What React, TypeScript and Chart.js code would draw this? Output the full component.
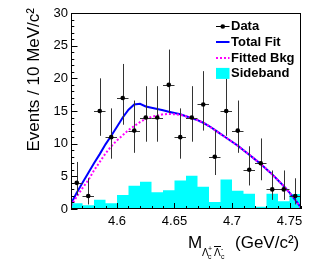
import React, { useEffect, useRef } from "react";
import { Chart, registerables } from "chart.js";

Chart.register(...registerables);

// ---------------- data ----------------
const binCenters = [
  4.565, 4.575, 4.585, 4.595, 4.605, 4.615, 4.625, 4.635, 4.645, 4.655,
  4.665, 4.675, 4.685, 4.695, 4.705, 4.715, 4.725, 4.735, 4.745, 4.755,
];
const binWidth = 0.01;
const dataCounts = [4, 2, 15, 11, 17, 12, 14, 14, 19, 11, 14, 16, 8, 15, 12, 6, 7, 3, 3, 2];
const errLow = [1.9, 1.3, 3.8, 3.3, 4.1, 3.4, 3.7, 3.7, 4.3, 3.3, 3.7, 4.0, 2.8, 3.8, 3.4, 2.4, 2.6, 1.6, 1.6, 1.3];
const errHigh = [3.2, 2.7, 5.0, 4.4, 5.2, 4.6, 4.8, 4.8, 5.4, 4.4, 4.8, 5.1, 4.0, 5.0, 4.6, 3.6, 3.8, 2.9, 2.9, 2.7];
const sideband = [0.87, 0.57, 1.43, 0.87, 2.14, 3.57, 4.18, 2.55, 2.86, 4.35, 5.1, 3.4, 1.07, 4.5, 2.8, 2.35, 0.33, 2.35, 1.2, 2.3];

const fitX = [
  4.56, 4.565, 4.57, 4.575, 4.58, 4.585, 4.59, 4.595, 4.6, 4.605,
  4.61, 4.615, 4.62, 4.625, 4.63, 4.635, 4.64, 4.645, 4.65, 4.655,
  4.66, 4.665, 4.67, 4.675, 4.68, 4.685, 4.69, 4.695, 4.7, 4.705,
  4.71, 4.715, 4.72, 4.725, 4.73, 4.735, 4.74, 4.745, 4.75, 4.755, 4.76,
];
const totalFit = [
  0.8, 2.5, 4.0, 5.5, 7.0, 8.4, 9.9, 11.2, 12.6, 14.0,
  15.2, 16.0, 16.1, 15.7, 15.5, 15.3, 15.1, 14.9, 14.7, 14.5,
  14.2, 13.9, 13.6, 13.2, 12.7, 12.1, 11.5, 10.9, 10.3, 9.7,
  9.0, 8.3, 7.6, 6.9, 6.1, 5.3, 4.4, 3.5, 2.5, 1.4, 0.2,
];
const bkgFit = [
  0.5, 1.9, 3.2, 4.4, 5.9, 7.2, 8.5, 9.6, 10.5, 11.3,
  12.1, 12.7, 13.3, 13.8, 14.1, 14.3, 14.5, 14.55, 14.5, 14.4,
  14.2, 13.95, 13.6, 13.2, 12.7, 12.1, 11.5, 10.9, 10.3, 9.7,
  9.0, 8.3, 7.6, 6.9, 6.1, 5.3, 4.4, 3.5, 2.5, 1.4, 0.2,
];

const xMin = 4.56;
const xMax = 4.76;
const xTicks = [4.6, 4.65, 4.7, 4.75];
const xTickLabels = ["4.6", "4.65", "4.7", "4.75"];
const yTicks = [0, 5, 10, 15, 20, 25, 30];
const yTickLabels = ["0", "5", "10", "15", "20", "25", "30"];
const legendLabels = ["Data", "Total Fit", "Fitted Bkg", "Sideband"];
const yTitle = "Events / 10 MeV/c\u00B2";

const FONT = "'Liberation Sans', Arial, Helvetica, sans-serif";
const BLUE = "#0000ff";
const MAGENTA = "#ff00ff";
const CYAN = "#00ffff";

const rootPlugin = {
  id: "rootStyle",
  beforeDatasetDraw(chart: any, args: any) {
    if (args.index !== 0) return;
    const { ctx } = chart;
    const x = chart.scales.x;
    const y = chart.scales.y;
    ctx.save();
    ctx.strokeStyle = "#333333";
    ctx.lineWidth = 1;
    binCenters.forEach((c, i) => {
      const px = Math.round(x.getPixelForValue(c)) + 0.5;
      const py = Math.round(y.getPixelForValue(dataCounts[i])) + 0.5;
      const yTop = y.getPixelForValue(dataCounts[i] + errHigh[i]);
      const yBot = y.getPixelForValue(Math.max(0, dataCounts[i] - errLow[i]));
      const xl = x.getPixelForValue(c - binWidth / 2);
      const xr = x.getPixelForValue(c + binWidth / 2);
      ctx.beginPath();
      ctx.moveTo(px, yTop);
      ctx.lineTo(px, yBot);
      ctx.moveTo(xl, py);
      ctx.lineTo(xr, py);
      ctx.stroke();
    });
    ctx.restore();
  },
  afterDraw(chart: any) {
    const { ctx, chartArea } = chart;
    const x = chart.scales.x;
    const y = chart.scales.y;
    const { left, right, top, bottom } = chartArea;
    ctx.save();
    // frame
    ctx.strokeStyle = "#000";
    ctx.lineWidth = 1;
    ctx.strokeRect(left + 0.5, top + 0.5, right - left - 1, bottom - top - 1);
    // x ticks
    ctx.beginPath();
    for (let k = 0; k <= 20; k++) {
      const v = xMin + k * 0.01;
      const px = Math.round(x.getPixelForValue(v)) + 0.5;
      const major = k % 5 === 4;
      ctx.moveTo(px, bottom);
      ctx.lineTo(px, bottom - (major ? 6 : 3));
    }
    // y ticks
    for (let v = 0; v <= 30; v++) {
      const py = Math.round(y.getPixelForValue(v)) + 0.5;
      const major = v % 5 === 0;
      ctx.moveTo(left, py);
      ctx.lineTo(left + (major ? 6.5 : 3.3), py);
    }
    ctx.stroke();

    // y title
    ctx.fillStyle = "#000";
    ctx.font = `17px ${FONT}`;
    ctx.save();
    ctx.translate(39, 8);
    ctx.rotate(-Math.PI / 2);
    ctx.textAlign = "right";
    ctx.textBaseline = "alphabetic";
    ctx.fillText(yTitle, 0, 0);
    ctx.restore();

    // x title
    ctx.textAlign = "left";
    ctx.textBaseline = "alphabetic";
    ctx.font = `17px ${FONT}`;
    ctx.fillText("M", 188, 248);
    ctx.font = `10px ${FONT}`;
    ctx.fillText("\u039B", 202, 256);
    ctx.font = `7px ${FONT}`;
    ctx.fillText("+", 208, 251);
    ctx.fillText("c", 208, 259);
    ctx.font = `10px ${FONT}`;
    ctx.fillText("\u039B", 214, 256);
    ctx.beginPath();
    ctx.moveTo(214, 246.5);
    ctx.lineTo(221, 246.5);
    ctx.stroke();
    ctx.font = `7px ${FONT}`;
    ctx.fillText("-", 221, 251);
    ctx.fillText("c", 221, 259);
    ctx.font = `17px ${FONT}`;
    ctx.fillText("(GeV/c\u00B2)", 235, 248);

    // legend
    const symL = 216;
    const symR = 229.5;
    const textX = 231;
    const row0 = top + 12.7;
    const dy = 15.9;
    ctx.font = `bold 13px ${FONT}`;
    ctx.textBaseline = "middle";
    legendLabels.forEach((lab, i) => {
      const ry = row0 + i * dy;
      ctx.save();
      if (i === 0) {
        ctx.strokeStyle = "#000";
        ctx.lineWidth = 1;
        ctx.beginPath();
        ctx.moveTo(symL, Math.round(ry) + 0.5);
        ctx.lineTo(symR, Math.round(ry) + 0.5);
        ctx.stroke();
        ctx.fillStyle = "#000";
        ctx.beginPath();
        ctx.arc((symL + symR) / 2, Math.round(ry) + 0.5, 2.3, 0, Math.PI * 2);
        ctx.fill();
      } else if (i === 1) {
        ctx.strokeStyle = BLUE;
        ctx.lineWidth = 2;
        ctx.beginPath();
        ctx.moveTo(symL, Math.round(ry));
        ctx.lineTo(symR, Math.round(ry));
        ctx.stroke();
      } else if (i === 2) {
        ctx.strokeStyle = MAGENTA;
        ctx.lineWidth = 2;
        ctx.setLineDash([2, 2]);
        ctx.beginPath();
        ctx.moveTo(symL, Math.round(ry));
        ctx.lineTo(symR, Math.round(ry));
        ctx.stroke();
      } else {
        ctx.fillStyle = CYAN;
        ctx.fillRect(symL, ry - 5.5, symR - symL, 11);
      }
      ctx.restore();
      ctx.fillStyle = "#000";
      ctx.fillText(lab, textX, ry + 0.5);
    });
    ctx.restore();
  },
};

export default function App() {
  const canvasRef = useRef<HTMLCanvasElement | null>(null);

  useEffect(() => {
    const canvas = canvasRef.current;
    if (!canvas) return;

    const sidebandSteps: { x: number; y: number }[] = [];
    binCenters.forEach((c, i) => {
      sidebandSteps.push({ x: c - binWidth / 2, y: sideband[i] });
      sidebandSteps.push({ x: c + binWidth / 2, y: sideband[i] });
    });

    const chart = new Chart(canvas, {
      type: "line",
      data: {
        datasets: [
          {
            label: legendLabels[0],
            data: binCenters.map((c, i) => ({ x: c, y: dataCounts[i] })),
            showLine: false,
            pointRadius: 2.3,
            pointBackgroundColor: "#000",
            pointBorderWidth: 0,
            borderColor: "#000",
            order: 0,
          },
          {
            label: legendLabels[2],
            data: fitX.map((v, i) => ({ x: v, y: bkgFit[i] })),
            borderColor: MAGENTA,
            borderWidth: 2,
            borderDash: [2, 2],
            pointRadius: 0,
            tension: 0,
            fill: false,
            order: 1,
          },
          {
            label: legendLabels[1],
            data: fitX.map((v, i) => ({ x: v, y: totalFit[i] })),
            borderColor: BLUE,
            borderWidth: 2,
            pointRadius: 0,
            tension: 0,
            fill: false,
            order: 2,
          },
          {
            label: legendLabels[3],
            data: sidebandSteps,
            borderWidth: 0,
            borderColor: "rgba(0,0,0,0)",
            backgroundColor: CYAN,
            pointRadius: 0,
            tension: 0,
            fill: "origin",
            order: 3,
          },
        ],
      },
      options: {
        responsive: false,
        animation: false,
        devicePixelRatio: 1,
        events: [],
        layout: { padding: { left: 0, right: 26, top: 13, bottom: 0 } },
        plugins: {
          legend: { display: false },
          tooltip: { enabled: false },
          title: { display: false },
          filler: { propagate: false },
        },
        scales: {
          x: {
            type: "linear",
            position: "bottom",
            min: xMin,
            max: xMax,
            grid: { display: false, drawTicks: false },
            border: { display: false },
            afterBuildTicks: (s: any) => {
              s.ticks = xTicks.map((v) => ({ value: v }));
            },
            afterFit: (s: any) => {
              s.height = 60;
            },
            ticks: {
              autoSkip: false,
              maxRotation: 0,
              padding: 5,
              color: "#000",
              font: { family: FONT, size: 13 },
              callback: (v: any) => {
                const idx = xTicks.findIndex((t) => Math.abs(t - Number(v)) < 1e-6);
                return idx >= 0 ? xTickLabels[idx] : "";
              },
            },
          },
          y: {
            type: "linear",
            min: 0,
            max: 30,
            grid: { display: false, drawTicks: false },
            border: { display: false },
            afterBuildTicks: (s: any) => {
              s.ticks = yTicks.map((v) => ({ value: v }));
            },
            afterFit: (s: any) => {
              s.width = 71;
            },
            ticks: {
              autoSkip: false,
              padding: 3,
              color: "#000",
              font: { family: FONT, size: 13 },
              callback: (v: any) => {
                const idx = yTicks.indexOf(Number(v));
                return idx >= 0 ? yTickLabels[idx] : "";
              },
            },
          },
        },
      },
      plugins: [rootPlugin],
    } as any);

    return () => {
      chart.destroy();
    };
  }, []);

  return (
    <div style={{ position: "absolute", left: 0, top: 0, width: 327, height: 269, background: "#fff" }}>
      <canvas ref={canvasRef} width={327} height={269} style={{ width: 327, height: 269, display: "block" }} />
    </div>
  );
}
